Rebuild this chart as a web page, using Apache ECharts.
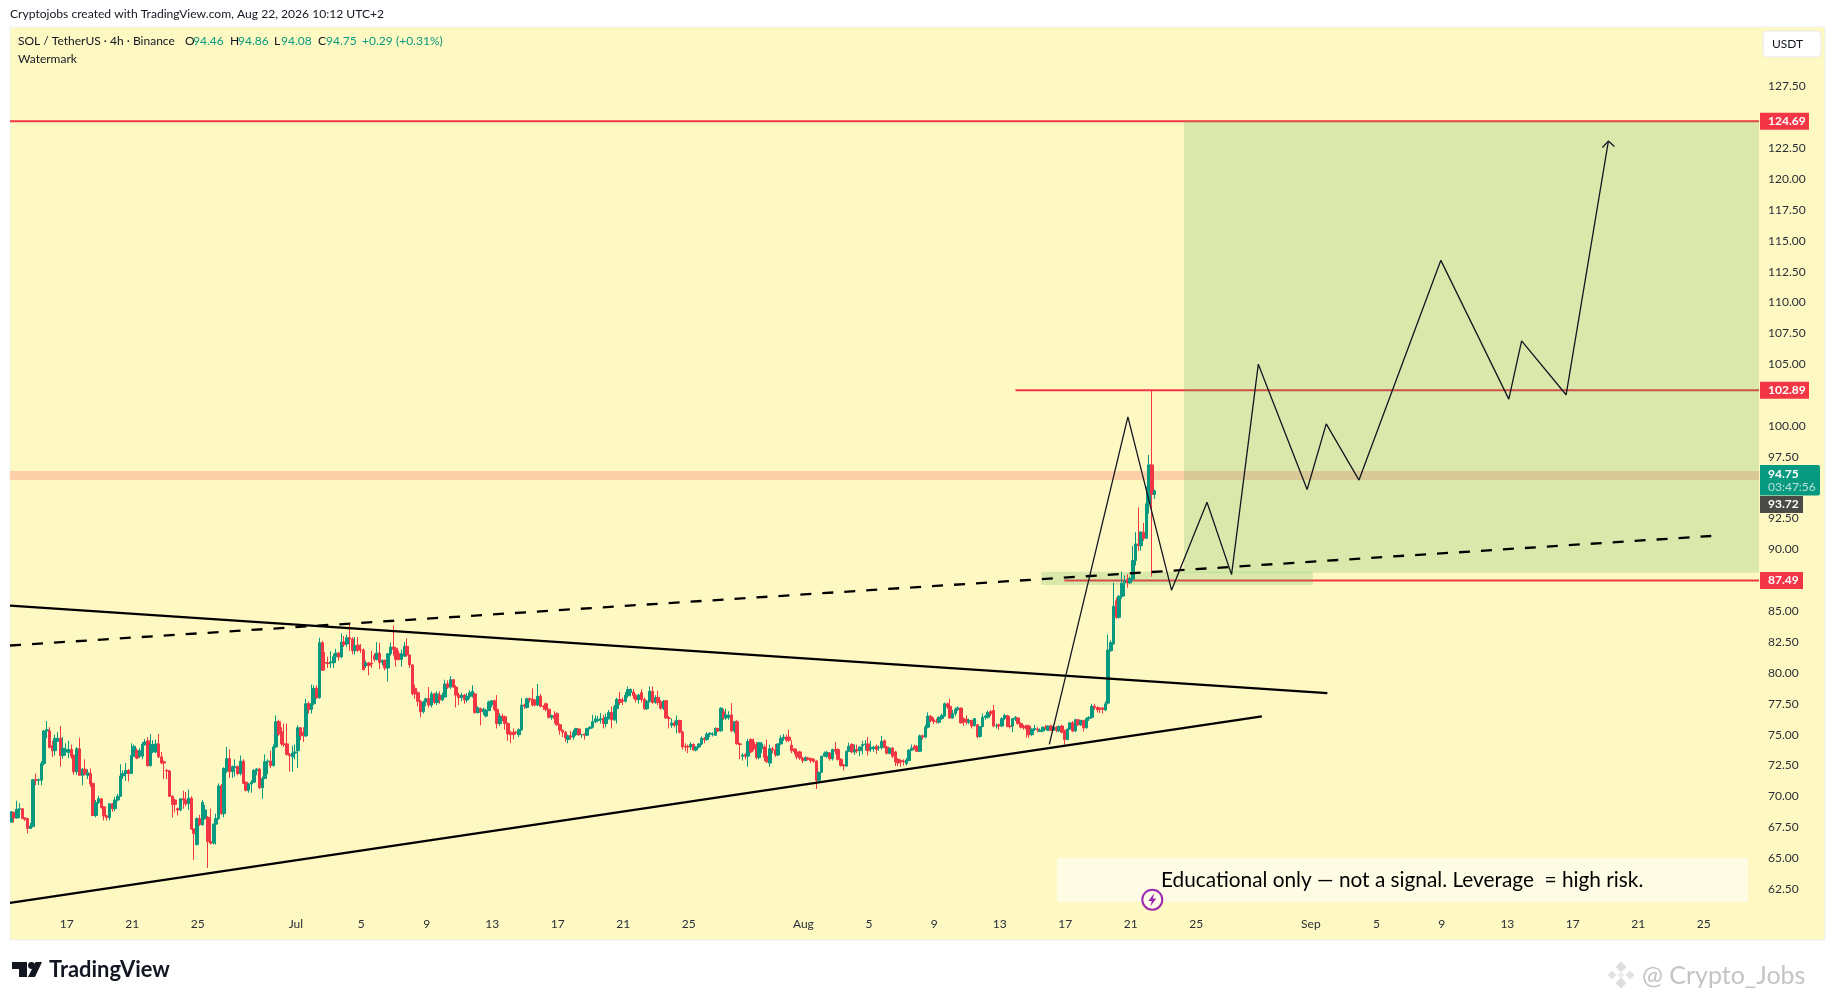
<!DOCTYPE html>
<html><head><meta charset="utf-8"><title>SOL / TetherUS</title>
<style>html,body{margin:0;padding:0;background:#fff}#c{width:1835px;height:1000px}</style>
<script src="https://cdn.jsdelivr.net/npm/echarts@6/dist/echarts.min.js"></script></head>
<body><div id="c"></div>
<script>
// Candles as [open, close, low, high]
const juneCandles=[[67.9,68.75,67.9,68.8],[68.7,68.25,67.9,68.75],[68.25,68.95,68.2,69.65],[68.95,69,68.25,69.45],[69,68.2,68.2,69.05],[68.25,68.15,68,68.3],[68.2,67.4,67,68.25],[67.4,67.6,67.35,67.85],[67.55,71.35,67.5,71.4],[71.35,71.3,70.9,71.85],
[71.3,71.35,70.9,71.45],[71.3,72.65,70.9,72.85],[72.65,75.3,72.5,75.35],[75.3,75.4,74.7,76.1],[75.3,73.95,73.9,75.6],[74.1,73.7,73.2,74.5],[73.7,74.7,73.3,75],[74.45,74.7,74.4,75.2],[74.7,73.3,72.4,75.7],[73.3,73.9,73.05,74.8],
[73.6,73.8,73.3,74.3],[73.55,73.8,73.1,74.5],[73.8,73.25,73.05,74.2],[73.3,72,71.75,73.4],[72,73.85,71.75,74],[73.85,71.7,71.7,74.75],[71.7,72.2,70.9,72.3],[72.2,71.8,71.7,73],[71.7,71.9,71.4,72.2],[71.85,71,70.75,72.25],
[71.05,68.45,68.4,71.1],[68.45,69.5,68.3,69.7],[69.5,69.8,69.4,70.05],[69.8,69.1,69,69.85],[69.15,68.4,68.05,69.2],[68.4,68.3,68.05,68.5],[68.3,69.4,68.05,69.45],[69.4,69,68.75,69.45],[69,69.7,68.8,69.95],[69.7,70,69.6,70.2],
[70,71.65,70,72.6],[71.65,71.85,71.4,72.1],[71.85,72.1,71.25,72.7],[72.1,71.85,71.2,72.2],[71.85,73.3,71.8,74.3],[73.25,74.05,73.2,74.2],[73.7,73.1,73,73.9],[73.25,73.7,73.1,73.9],[73.25,74.2,73,74.4],[74.2,74.4,74.1,74.65],
[74.5,72.5,72.4,74.8],[72.5,74.2,72.4,75.05],[73.6,74.2,73.5,74.55],[73.6,74.25,73.5,74.6],[74.25,73.2,73.1,75.05],[73.2,72.7,72.6,73.6],[72.8,72.7,71.4,72.9],[72.1,72.05,71.4,72.2],[72.05,70,69.95,72.1],[70,69.35,68.3,70.1],
[69.7,69.35,68.7,69.8],[69,68.9,68.45,69.1],[68.9,69.8,68.8,69.85],[69.8,69.7,69,70.45],[69.7,69.4,69.2,70.35],[69.4,69.85,68.9,70.55],[69.85,67.35,67.3,70],[67.35,67,64.85,67.4],[66.1,68.2,66,68.3],[68.2,67.7,67.6,68.5],
[67.7,69.5,67.6,69.7],[68.2,68.9,68.1,69.3],[68.3,66.35,64.2,68.4],[66.35,66.2,66.1,69],[66.2,67.75,66.1,67.8],[67.75,68.2,66.1,68.6],[68.2,70.85,68.1,71.05],[70.85,68.6,68.5,71],[68.6,72.25,68.3,72.35],[72.05,73.05,71.9,74],
[73.05,72,71.5,73.8],[72,72.4,71.5,72.5],[72.35,72.4,71.6,73],[72.4,71.85,71.7,72.5],[71.85,72.85,71.7,73.3],[72.85,71.05,71,73],[71.15,70.5,70.4,71.2],[70.5,71,70.3,71.1],[71,71.15,70.3,71.3],[71.15,72.1,71.1,72.2],
[72.1,72.2,71.7,72.3],[72.2,70.7,70.6,72.3],[70.7,71.45,69.8,71.6],[71.45,72.8,71.4,73.4],[72.8,72.85,71.8,73],[72.85,72.5,72.3,73.7],[72.5,74,72.4,74.2],[74,76.05,73.9,76.55],[76.05,75.05,74.9,76.2],[75.25,74.25,74.1,75.6],
[74.25,74.2,74,75.9],[74.25,73.4,73.3,75.9],[73.4,73.3,72,73.5],[73.2,73.5,72,74.1],[73.5,73.6,73,74.2]];
const julyCandles=[[73.7,75.55,72.3,75.75],[75.55,74.9,74.55,75.6],[75.2,74.9,74.4,75.6],[74.9,77.5,74.8,77.9],[77.5,77.05,76.7,77.7],[77.05,77.5,76.7,79.05],[77.5,78.75,77.4,79],[78.75,78,77.9,79],[78,82.45,77.9,82.85],[82.45,80.2,80.2,82.6],
[80.85,80.8,80.2,81.7],[80.8,80.75,80.4,81.3],[80.8,80.9,80.4,81.75],[80.8,81.3,80.4,81.55],[81.3,81.6,80.8,81.95],[81.6,81.3,81,81.7],[81.3,82.5,81.2,83.2],[82.5,82.3,82.1,83],[82.35,82.85,82.1,83.1],[82.85,82.75,81.8,84.05],
[82.75,81.8,81.5,82.9],[81.8,82.2,81.5,82.9],[82.25,81.85,81.7,82.9],[81.9,81.85,81.6,82.35],[81.85,80.25,80.2,82],[80.6,80.8,80.4,81],[80.8,80.6,79.8,80.9],[80.8,80.75,80.4,81.8],[81.4,81.1,80.9,81.6],[81.1,81.6,81,82.5],
[81.6,80.85,80.3,82.45],[80.85,81,80.6,81.1],[81,80.4,80.2,81.1],[80.4,81.55,79.3,81.6],[81.55,82.1,81.4,82.45],[82.1,81.9,81.4,83.85],[82,81.1,80.5,82.1],[81.55,81.1,81,81.8],[81.1,81.55,80.5,81.9],[81.35,82.15,81.3,82.5],
[82.15,81.45,81.3,82.8],[81.45,80.65,80.4,81.5],[80.65,78.3,78.2,80.7],[78.75,78.3,77.9,79.05],[78.4,77.7,77.3,78.5],[77.7,76.85,76.4,77.8],[76.85,77.65,76.7,77.75],[77.65,77.9,77.3,78],[77.9,77.4,77.2,78.85],[77.4,78.3,77.2,78.5],
[78.3,77.6,77.5,78.4],[77.6,78.3,77.4,78.5],[78.2,77.8,77.5,78.5],[77.8,78.2,77.7,78.4],[78.05,79.1,78,79.45],[79.1,78.85,78.7,79.4],[78.85,79.45,78.7,79.75],[79.45,78.85,78.8,79.5],[78.85,78.2,77.2,79],[78.2,78,77.4,78.4],
[78,78.2,77.7,78.4],[78.2,77.8,77.5,78.3],[77.8,78.1,77.6,78.35],[78.1,78.4,77.9,78.6],[78.2,78.5,78,79],[78.3,76.8,76.7,78.4],[76.8,77.15,76.7,77.3],[77.1,76.85,75.75,77.2],[76.85,77.05,76.6,77.2],[76.5,76.95,76.4,77.1],
[76.95,77.65,76.9,77.75],[77.4,77.75,77.2,77.8],[77.75,77.05,76.9,77.85],[77.05,75.9,75.5,78.2],[75.9,76.5,75.7,76.75],[76.5,76.45,76.1,76.7],[76.45,75.9,75.4,76.55],[75.9,75.05,74.5,76],[75.2,75,74.3,75.3],[75.2,75,74.6,75.5],
[75.2,75.15,75,75.3],[75,75.4,74.8,75.5],[75.4,77.4,75.3,77.95],[77.4,77.3,77.1,77.5],[77.2,77.9,77.1,78],[77.9,77.85,77.6,78],[77.85,77.4,77.3,78.75],[77.8,77.4,77.3,77.9],[77.4,78.1,77.3,79.1],[78.1,77.3,77.2,78.3],
[77.3,77.25,77,77.4],[77.5,77.05,76.9,77.6],[77.05,76.4,76.3,77.1],[76.4,76.55,76.2,76.6],[76.55,76.3,75.9,76.9],[76.7,75.8,75.7,76.8],[75.8,75.35,75,75.9],[75.35,75.2,74.8,75.4],[75.2,74.75,74.4,75.3],[74.6,74.9,74.3,75],
[74.9,74.8,74.6,75.3],[74.8,75.2,74.6,75.4],[75,75.5,74.9,75.55],[75.45,75,74.9,75.5],[75,75,74.75,75.05],[75.05,74.95,74.6,75.1],[74.95,75.5,74.9,75.55],[75.5,75.6,75.4,75.7],[75.6,76.05,75.5,76.6],[76.05,76.28,75.9,76.55],
[76.15,76.2,76,76.5],[76.2,76.3,75.9,76.75],[76.3,75.9,75.5,76.6],[75.9,76.4,75.6,76.7],[76.3,76.8,76.2,77],[76.8,76.2,75.5,77.3],[76.2,77.25,76.1,77.4],[77.1,77.85,75.9,78],[77.85,77.6,77.4,78.45],[77.8,77.7,77.4,78],
[77.7,78.2,77.6,78.45],[78.15,78.65,78,78.9],[78.4,78.65,78.1,78.75],[78.45,78.15,77.9,78.7],[78.15,77.85,77.6,78.3],[77.85,78.2,77.5,78.3],[78.4,77.85,77.6,78.65],[77.85,77.1,77,78],[77.1,77.7,77,77.8],[77.7,78.5,77.6,78.9],
[78.5,77.6,77.5,78.9],[77.6,78,77.5,78.2],[78,77.6,77.4,78.55],[77.65,77.15,77,77.8],[77.15,77.7,77,77.8],[77.75,76.35,76.3,77.8],[76.35,76.3,75.5,76.5],[75.75,75.95,75.55,76.3],[75.95,75.75,75.6,76.1],[75.8,76.15,75.1,76.55],
[76.15,75.2,75.1,76.2],[75.2,74,73.8,75.3],[74.05,74,73.65,74.3],[74.05,74,73.5,74.2],[74,74.2,73.75,74.4],[74.2,73.75,73.7,74.3],[73.75,74,73.65,74.05],[74,74.25,73.9,74.3],[74.25,74.7,74.15,74.85],[74.7,74.6,74.3,74.8],
[74.6,75.05,74.5,75.2],[75.05,75.1,74.8,75.2],[75,75.05,74.85,75.2],[74.95,75.5,74.9,75.6],[75.5,75.3,75.2,75.55],[75.3,77.15,75.25,77.2],[76.85,76.35,76.2,77.1],[76.35,76.6,76.2,77.1],[76.4,76.55,76.2,76.9],[76.6,75.3,75.2,77.55],
[75.3,76.05,75.1,76.1],[76.05,74.25,74.2,76.2],[74.25,74.2,73,74.35],[73.25,73.35,72.9,73.5],[73.4,73.25,73,73.5],[73.25,74.45,72.4,74.65],[74.6,73.6,73.5,74.7],[74.4,73.85,73.7,74.7],[74.2,73.15,73,74.4],[73.15,74.35,73,74.4],
[73.85,74.25,73.5,74.4],[74,73.15,72.85,74.2],[73.25,72.8,72.7,74.6],[72.7,73.85,72.4,74.2],[73.85,73.75,73.5,74],[73.75,73.35,73.2,74.25]];
const augustCandles=[[73.35,74.25,73.25,74.3],[74.25,74.7,74.15,74.95],[74.7,74.8,74.5,75.05],[74.8,74.55,74.4,75],[74.8,74.55,74.4,75.4],[74.15,73.7,73.5,74.55],[73.85,73.6,73.4,73.9],[73.6,73.2,73,73.85],[73.6,73.1,72.95,73.7],[73.1,72.9,72.7,73.2],
[72.9,73.15,72.85,73.25],[73.1,73,72.9,73.2],[73.05,72.9,72.7,73.15],[73,72.85,72.7,73.1],[72.85,71.3,70.6,72.95],[71.3,71.95,71.2,72],[71.95,73.25,71.9,73.3],[73.25,73.5,73.2,73.65],[73.25,73.55,73.1,73.7],[73.5,73.05,72.9,73.6],
[73.05,73.8,72.9,73.85],[73.8,73.65,73.4,74.4],[73.8,73,72.9,73.9],[73,72.5,72.4,73.1],[72.55,72.45,72.1,72.6],[72.45,73.65,72.4,73.7],[73.65,74.05,73.6,74.35],[74.2,73.6,73.5,74.3],[73.6,73.8,73.35,74.2],[73.8,73.7,73.5,74.2],
[73.7,74,73.25,74.05],[74.1,74.2,73.4,74.5],[74.2,74.25,73.7,74.55],[74.25,73.7,73.3,74.8],[73.85,73.95,73.6,74.5],[73.85,74,73.6,74.1],[74.05,73.8,73.45,74.2],[73.95,73.95,73.7,74.1],[73.95,74.45,73.8,74.9],[74.5,74,73.9,74.6],
[74,73.5,73.4,74.1],[73.5,73.9,73.4,73.95],[73.9,73.25,73.1,74],[73.6,72.8,72.45,73.7],[73,72.7,72.45,73.1],[72.9,72.8,72.4,73],[72.85,72.8,72.5,73],[72.65,72.95,72.5,73.1],[72.9,73.75,72.85,73.8],[73.75,73.9,73.7,74.2],
[74.05,73.85,73.8,74.2],[74.05,73.65,73.6,74.15],[73.65,74.9,73.6,75],[74.9,74.8,74.6,75],[74.8,75.6,74.7,75.8],[75.6,76.5,75.5,76.8],[76.45,76.15,76,76.6],[76.2,76.05,75.85,76.4],[76.1,76.05,75.9,76.3],[76,76.4,75.9,76.5],
[76.3,76.55,76.2,76.7],[76.5,77.5,76.45,77.6],[77.5,77.25,77.1,77.6],[77.3,76.35,76.3,77.9],[76.35,76.7,76.3,77],[76.7,77.05,76.5,77.2],[77.05,77.15,76.9,77.3],[77.15,75.95,75.9,77.2],[76.3,76,75.7,76.4],[76.25,76,75.8,76.55],
[76,76.15,75.85,76.3],[76.15,75.7,75.5,76.2],[75.75,76.3,75.65,76.35],[75.8,74.85,74.7,75.85],[74.85,75.65,74.75,75.7],[75.65,76.4,75.6,76.7],[76.4,76.5,76.2,76.6],[76.4,76.8,76.3,76.95],[76.85,76.7,76.5,77],[76.95,75.7,75.6,77.4],
[75.7,75.7,75.5,75.9],[75.8,75.7,75.4,75.9],[75.7,76.3,75.6,76.4],[76.3,76.55,76.2,76.7],[76.55,75.65,75.6,76.6],[75.7,75.65,75.5,76.5],[75.7,76.3,75.2,76.35],[76.25,76.4,76.1,76.5],[76.35,75.9,75.8,76.4],[75.9,75.6,75.5,76],
[75.7,75.55,75.4,75.8],[75.75,75.45,74.75,75.8],[75.7,75,74.75,75.8],[75,75.45,74.9,75.5],[75.4,75.5,75.3,75.8],[75.45,75.4,75.2,75.6],[75.25,75.35,75.2,75.5],[75.3,75.6,75.2,75.65],[75.6,75.55,75.4,75.8],[75.35,75.7,75.3,75.75],
[75.7,75.35,75.3,75.8],[75.35,75.6,75.3,75.75],[75.6,75.35,75.2,75.7],[75.3,75.65,75.2,75.75],[75.7,75.2,75.1,75.8],[75.35,74.6,74.2,75.4],[74.6,75.45,74.55,75.5],[75.45,75.95,75.4,76],[75.95,75.3,75.2,76.1],[75.3,76.2,75.2,76.3],
[76.2,75.8,75.7,76.25],[75.8,76.15,75.7,76.2],[76.15,75.55,75.25,76.2],[75.55,76.3,75.5,76.4],[76.3,76.4,76.1,76.5],[76.4,77.3,76.3,77.5],[77.3,77.2,77,77.5],[77.2,77,76.8,77.3],[77.15,77.05,76.75,77.2],[77.15,77.05,76.7,77.2],
[77,77.5,76.9,77.7],[77.55,81.85,77.45,83.1],[81.8,82.45,81.7,82.65],[82.35,85.4,82.3,87.3],[85.85,84.5,84.4,86.1],[84.5,86.2,84.4,86.3],[86.2,87.25,86,88.2],[87.3,87.45,86.2,87.9],[87.55,87.3,86.9,88],[87.3,87.65,87.2,87.8],
[87.6,89.1,87.5,90.3],[89.1,90.45,88.7,91.4],[90.45,90.3,89.9,93.4],[90.3,91.4,89.9,91.5],[91.4,90.9,90.7,92.15],[90.9,93.7,90.85,95.1],[93.7,96.85,92.9,97.65],[96.85,94.46,87.8,102.89],[94.46,94.75,94.08,94.86]];

const dayLabelsShown=[1,5,9,13,17,21,25];
const monthNames={6:'Jun',7:'Jul',8:'Aug',9:'Sep'};
const slotCount=641;
const firstDay17Slot=21; // Jun 17 00:00 sits on slot 21
const priceTicksShown=[127.5,122.5,120,117.5,115,112.5,110,107.5,105,100,97.5,92.5,90,85,82.5,80,77.5,75,72.5,70,67.5,65,62.5];

// Drawn objects: [bar number, price]
const upperTrend=[[-0.5,85.45],[482.3,78.36]];
const lowerTrend=[[-0.5,61.37],[458.3,76.47]];
const dashedTrend=[[-0.5,82.22],[623,91.09]];
const projection=[[380.4,74.21],[409.2,100.74],[425.2,86.7],[438.2,93.82],[447.2,87.96],[457,105.01],[474.9,94.86],[481.9,100.17],[493.9,95.62],[523.9,113.42],[548.8,102.18],[553.5,106.89],[569.8,102.53],[585.3,123.08]];
const arrowHead=[[583.1,122.56],[585.3,123.08],[587.5,122.65]];
const target124=[[-0.5,124.69],[640.5,124.69]];
const level102=[[368,102.89],[640.5,102.89]];
const level87=[[385.9,87.49],[640.5,87.49]];
const peachBand=[[-0.5,640.5,96.35,95.62]];
const greenZones=[[429.8,640.5,124.69,88.12],[377.5,477,88.2,87.13]];
const redTags=[[124.69,'124.69',49],[102.89,'102.89',49],[87.49,'87.49',43]];

const ohlc=[...juneCandles,...julyCandles,...augustCandles];
const categories=[];
for(let i=0;i<slotCount;i++){const d=new Date(Date.UTC(2026,5,17,4*(i-firstDay17Slot)));categories.push(d.toISOString().slice(0,16));}
function isTick(i){const d=new Date(categories[i]+'Z');return d.getUTCHours()===0&&dayLabelsShown.includes(d.getUTCDate());}

const FONT='Lato, "Open Sans", sans-serif';
const up='#089981',down='#F23645';
const rectItem=(fill)=>(p,api)=>{
  const a=api.coord([api.value(0),api.value(2)]),b=api.coord([api.value(1),api.value(3)]);
  return {type:'rect',shape:{x:a[0],y:a[1],width:b[0]-a[0],height:b[1]-a[1]},style:{fill}};
};
const lineS=(data,color,width,z,type)=>({type:'line',xAxisIndex:1,data,symbol:'none',silent:true,animation:false,z,clip:true,lineStyle:{color,width,type:type||'solid',cap:'butt'}});
const txt=(text,x,y,fill,size,extra)=>({type:'text',x,y,silent:true,z:50,style:Object.assign({text,fill,font:`${size}px ${FONT}`,textVerticalAlign:'middle'},extra||{})});
const box=(x,y,w,h,fill,z,extra)=>({type:'rect',silent:true,z,shape:Object.assign({x,y,width:w,height:h},extra&&extra.shape||{}),style:Object.assign({fill},extra&&extra.style||{})});
const poly=(points,fill,z,style)=>({type:'polygon',silent:true,z,shape:{points},style:Object.assign({fill},style||{})});
const diamond=(cx,cy,r,fill)=>poly([[cx,cy-r],[cx+r,cy],[cx,cy+r],[cx-r,cy]],fill,40);

const option={
  animation:false,backgroundColor:'#fff',
  grid:{left:10,right:76,top:24.8,height:895,containLabel:false},
  xAxis:[{type:'category',data:categories,boundaryGap:true,axisLine:{show:false},axisTick:{show:false},splitLine:{show:false},
    axisLabel:{interval:(i)=>isTick(i),margin:-2,padding:[0,4,0,0],fontFamily:FONT,fontSize:12,color:'#2a2e39',
      formatter:(v)=>{const d=new Date(v+'Z');return d.getUTCDate()===1?monthNames[d.getUTCMonth()+1]:String(d.getUTCDate());}}},
    {type:'value',min:-0.5,max:640.5,show:false,splitLine:{show:false}}],
  yAxis:{type:'value',position:'right',min:60,max:132.5,interval:2.5,axisLine:{show:false},axisTick:{show:false},splitLine:{show:false},
    axisLabel:{margin:9,fontFamily:FONT,fontSize:12,color:'#2a2e39',align:'left',
      formatter:(v)=>priceTicksShown.includes(v)?v.toFixed(2):''}},
  series:[
    {type:'custom',xAxisIndex:1,data:peachBand,z:1,silent:true,animation:false,encode:{x:[0,1],y:[2,3]},renderItem:rectItem('#fdd0a8')},
    lineS(target124,'#F23645',2,2),lineS(level102,'#F23645',2,2),lineS(level87,'#F23645',2,2),
    {type:'custom',xAxisIndex:1,data:greenZones,z:3,silent:true,animation:false,encode:{x:[0,1],y:[2,3]},renderItem:rectItem('rgba(76,175,80,0.2)')},
    {type:'candlestick',xAxisIndex:0,data:ohlc,barWidth:3,z:4,animation:false,silent:true,
      itemStyle:{color:up,color0:down,borderColor:up,borderColor0:down,borderWidth:1}},
    lineS(upperTrend,'#000',2.3,5),lineS(lowerTrend,'#000',2.3,5),lineS(dashedTrend,'#000',2.3,5,[11,11]),
    lineS(projection,'#131722',1.3,6),lineS(arrowHead,'#131722',1.3,6),
    {type:'custom',xAxisIndex:1,data:redTags.map(t=>[640.5,t[0]]),z:10,silent:true,animation:false,clip:false,encode:{x:0,y:1},
      renderItem:(p,api)=>{const c=api.coord([api.value(0),api.value(1)]);const t=redTags[p.dataIndex];
        return {type:'group',children:[
          {type:'rect',shape:{x:c[0]+1,y:c[1]-8.5,width:t[2],height:17},style:{fill:down}},
          {type:'text',x:c[0]+9,y:c[1],style:{text:t[1],fill:'#fff',font:`bold 12px ${FONT}`,textVerticalAlign:'middle'}}]};}}
  ],
  graphic:[
    box(10,27,1815,913,'#fef8c2',-10,{style:{stroke:'#eef0f3',lineWidth:1}}),
    // header
    txt('Cryptojobs created with TradingView.com, Aug 22, 2026 10:12 UTC+2',10,14.5,'#131722',12.1),
    txt('SOL / TetherUS · 4h · Binance',18,41.5,'#131722',12),
    txt('O',185,41.5,'#131722',12),txt('94.46',193,41.5,up,12),
    txt('H',230,41.5,'#131722',12),txt('94.86',238,41.5,up,12),
    txt('L',274,41.5,'#131722',12),txt('94.08',281,41.5,up,12),
    txt('C',318,41.5,'#131722',12),txt('94.75',326,41.5,up,12),
    txt('+0.29',362,41.5,up,12),txt('(+0.31%)',396,41.5,up,12),
    txt('Watermark',18,59,'#131722',12),
    // USDT button
    box(1763,31,58,26,'#fff',20,{shape:{r:4},style:{stroke:'#e8e8e8',lineWidth:1}}),
    txt('USDT',1772,44.5,'#131722',12),
    // last price and countdown
    box(1760,465,60,30.5,up,20,{shape:{r:[0,2,2,0]}}),
    txt('94.75',1768,474,'#fff',12,{font:`bold 12px ${FONT}`}),
    txt('03:47:56',1768,487.5,'rgba(255,255,255,0.7)',12),
    box(1760,496,43,17,'#4a4a46',20),
    txt('93.72',1768,504.5,'#fff',12,{font:`bold 12px ${FONT}`}),
    // disclaimer box
    box(1057,858,691,44,'#fffce6',12),
    txt('Educational only — not a signal. Leverage  = high risk.',1161,880.5,'#000',20.8,{}),
    // lightning icon
    {type:'circle',silent:true,z:30,shape:{cx:1152.3,cy:899.7,r:10},style:{fill:'#fffde8',stroke:'#9c27b0',lineWidth:2}},
    poly([[1154.3,893],[1148.3,901],[1151.8,901],[1150.3,906.5],[1156.3,898.5],[1152.8,898.5]],'#9c27b0',31),
    // TradingView logo
    poly([[12,962],[27,962],[27,977],[19,977],[19,969],[12,969]],'#131722',40),
    {type:'circle',silent:true,z:40,shape:{cx:31.5,cy:965.5,r:3.4},style:{fill:'#131722'}},
    poly([[35.5,962],[42,962],[35,977],[28,977]],'#131722',40),
    txt('TradingView',49,970,'#131722',21.9,{font:`bold 21.9px ${FONT}`}),
    // corner watermark
    diamond(1621,967,5.5,'#dedede'),diamond(1621,983,5.5,'#dedede'),diamond(1612,975,4.5,'#e2e2e2'),diamond(1630,975,4.5,'#e2e2e2'),diamond(1621,975,3.5,'#ececec'),
    txt('@ Crypto_Jobs',1642,976,'#c4c4c4',25)
  ]
};
echarts.init(document.getElementById('c'),null,{renderer:'canvas'}).setOption(option);
</script></body></html>
